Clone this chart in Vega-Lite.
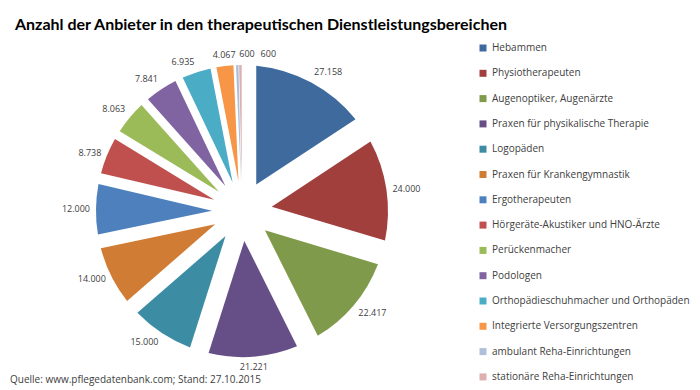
{
  "$schema": "https://vega.github.io/schema/vega-lite/v6.json",
  "padding": {"left": 10, "top": 17, "right": 5, "bottom": 0},
  "background": "white",
  "title": {"text": "Anzahl der Anbieter in den therapeutischen Dienstleistungsbereichen", "anchor": "start", "font": "Lato", "fontSize": 16, "fontWeight": "bold", "color": "#000000", "offset": 6, "dx": 5},
  "data": {"values": [
    {"nr": 1, "bereich": "Hebammen", "n": 27158},
    {"nr": 2, "bereich": "Physiotherapeuten", "n": 24000},
    {"nr": 3, "bereich": "Augenoptiker, Augenärzte", "n": 22417},
    {"nr": 4, "bereich": "Praxen für physikalische Therapie", "n": 21221},
    {"nr": 5, "bereich": "Logopäden", "n": 15000},
    {"nr": 6, "bereich": "Praxen für Krankengymnastik", "n": 14000},
    {"nr": 7, "bereich": "Ergotherapeuten", "n": 12000},
    {"nr": 8, "bereich": "Hörgeräte-Akustiker und HNO-Ärzte", "n": 8738},
    {"nr": 9, "bereich": "Perückenmacher", "n": 8063},
    {"nr": 10, "bereich": "Podologen", "n": 7841},
    {"nr": 11, "bereich": "Orthopädieschuhmacher und Orthopäden", "n": 6935},
    {"nr": 12, "bereich": "Integrierte Versorgungszentren", "n": 4067},
    {"nr": 13, "bereich": "ambulant Reha-Einrichtungen", "n": 600},
    {"nr": 14, "bereich": "stationäre Reha-Einrichtungen", "n": 600}
  ]},
  "vconcat": [{
    "width": 464,
    "height": 344,
    "title": {"text": "Quelle: www.pflegedatenbank.com; Stand: 27.10.2015", "orient": "bottom", "anchor": "start", "fontSize": 10, "fontWeight": "normal", "font": "Open Sans", "color": "#404040", "offset": -8},
    "encoding": {
      "theta": {"field": "n", "type": "quantitative", "stack": true},
      "order": {"field": "nr", "type": "quantitative"}
    },
    "layer": [
      {
        "mark": {"type": "arc", "outerRadius": 146, "innerRadius": 30, "padAngle": {"expr": "2*asin(30*sin(PI*datum.n/172640)/149.05)"}},
        "encoding": {
          "color": {
            "field": "bereich", "type": "nominal",
            "scale": {
              "domain": ["Hebammen", "Physiotherapeuten", "Augenoptiker, Augenärzte", "Praxen für physikalische Therapie", "Logopäden", "Praxen für Krankengymnastik", "Ergotherapeuten", "Hörgeräte-Akustiker und HNO-Ärzte", "Perückenmacher", "Podologen", "Orthopädieschuhmacher und Orthopäden", "Integrierte Versorgungszentren", "ambulant Reha-Einrichtungen", "stationäre Reha-Einrichtungen"],
              "range": ["#3E6A9E", "#A03F3C", "#7F9A4A", "#664F87", "#3C8DA4", "#D07C35", "#4E80BE", "#C0504D", "#9BBB59", "#8064A2", "#4BACC6", "#F79646", "#AFBFDA", "#DDAFAE"]
            },
            "legend": {"title": null}
          }
        }
      },
      {
        "mark": {
          "type": "text", "radius": 152, "font": "Open Sans", "fontSize": 9, "color": "#404040",
          "align": {"expr": "sin(PI*(datum.n_start+datum.n_end)/172640) > 0.3 ? 'left' : (sin(PI*(datum.n_start+datum.n_end)/172640) < -0.3 ? 'right' : 'center')"},
          "baseline": {"expr": "cos(PI*(datum.n_start+datum.n_end)/172640) > 0.5 ? 'bottom' : (cos(PI*(datum.n_start+datum.n_end)/172640) < -0.5 ? 'top' : 'middle')"},
          "dx": {"expr": "datum.n < 1000 ? (datum.n_start > 172000 ? 28 : 10) : 0"}
        },
        "encoding": {
          "text": {"field": "n", "type": "quantitative", "format": ",d"}
        }
      }
    ]
  }],
  "config": {
    "view": {"stroke": null},
    "locale": {"number": {"decimal": ",", "thousands": ".", "grouping": [3], "currency": ["", " €"]}},
    "legend": {"orient": "right", "offset": 0, "symbolType": "square", "symbolSize": 49, "symbolStrokeWidth": 0, "labelFontSize": 10, "labelFont": "Open Sans", "labelColor": "#404040", "rowPadding": 15.3, "labelOffset": 4, "padding": 4, "labelLimit": 230}
  }
}
